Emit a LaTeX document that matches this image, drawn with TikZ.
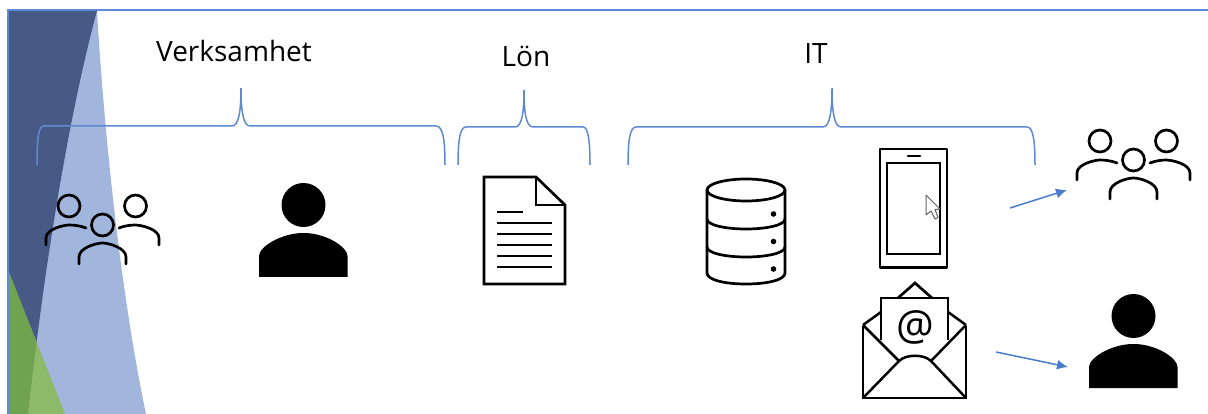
\documentclass[tikz,border=0pt]{standalone}
\usepackage{fontspec}
\setmainfont{Open Sans}
\usetikzlibrary{arrows.meta}
\definecolor{frameblue}{HTML}{5B8BD6}
\definecolor{braceblue}{HTML}{5F8AD2}
\definecolor{arrowblue}{HTML}{4A7CCB}
\definecolor{darkslate}{HTML}{465A85}
\definecolor{paleblue}{HTML}{A1B5DD}
\definecolor{leafdark}{HTML}{70A34F}
\definecolor{leaflight}{HTML}{8CBA69}
\tikzset{
  x=1pt,y=-1pt,
  icon/.style={draw=black,line width=2.7pt,line join=round,line cap=round},
  thinicon/.style={draw=black,line width=2.5pt,line join=miter},
  bracebar/.style={draw=braceblue,line width=1.5pt},
  flowarrow/.style={draw=arrowblue,line width=1.5pt,-{Latex[length=11pt,width=10pt]}},
  label/.style={inner sep=0pt,font=\fontsize{28}{32}\selectfont,text=black},
  groupicon/.pic={
    \draw[icon] (69,206) circle[radius=11];
    \draw[icon] (135.5,206) circle[radius=11];
    \draw[icon] (102.5,225) circle[radius=11];
    \draw[icon] (46,245) -- (46,238) .. controls (46,229) and (64,225) .. (69,225) .. controls (75,225) and (81,226) .. (86,228);
    \draw[icon] (159,245) -- (159,238) .. controls (159,229) and (141,225) .. (135,225) .. controls (130,225) and (124,226) .. (119,228);
    \draw[icon] (79,264) -- (79,257) .. controls (79,248) and (96,243) .. (102.5,243) .. controls (109,243) and (126,248) .. (126,257) -- (126,264);
  },
  personicon/.pic={
    \fill[black] (303.5,205) circle[radius=22];
    \fill[black] (259,277) -- (259,256) .. controls (259,247) and (281,233) .. (303.5,233) .. controls (326,233) and (347.5,247) .. (347.5,256) -- (347.5,277) -- cycle;
  }
}
\begin{document}
\begin{tikzpicture}
\useasboundingbox (0,0) rectangle (1208,414);
\fill[white] (0,0) rectangle (1208,414);
% background wedges
\fill[paleblue] (97,11) .. controls (104,130) and (120,290) .. (146,414) -- (8,414) -- (8,11) -- cycle;
\fill[darkslate] (8,11) -- (97,11) .. controls (70,110) and (45,260) .. (28,414) -- (8,414) -- cycle;
\fill[leaflight] (8,270) -- (65,414) -- (8,414) -- cycle;
\begin{scope}
  \clip (8,11) -- (97,11) .. controls (70,110) and (45,260) .. (28,414) -- (8,414) -- cycle;
  \fill[leafdark] (8,270) -- (65,414) -- (8,414) -- cycle;
\end{scope}
% frame
\draw[frameblue,line width=2pt] (1208,10.5) -- (7.5,10.5) -- (7.5,414);
% labels
\node[label] (verksamhet) at (234,51) {Verksamhet};
\node[label] (lon) at (526,56) {Lön};
\node[label] (it) at (816,54) {IT};
% braces
\draw[bracebar] (37,165) .. controls (37,140) and (38,126) .. (44,126) -- (232,126) .. controls (239,126) and (241,110) .. (241,88) .. controls (241,110) and (243,126) .. (250,126) -- (436,126) .. controls (443,126) and (445,140) .. (445,165);
\draw[bracebar] (458,165) .. controls (458,140) and (460,127) .. (466,127) -- (515,127) .. controls (522,127) and (524,112) .. (524,90) .. controls (524,112) and (526,127) .. (533,127) -- (583,127) .. controls (588,127) and (590,140) .. (590,165);
\draw[bracebar] (628,165) .. controls (628,140) and (630,127) .. (636,127) -- (823,127) .. controls (830,127) and (832,110) .. (832,88) .. controls (832,110) and (834,127) .. (841,127) -- (1027,127) .. controls (1033,127) and (1035,140) .. (1035,165);
% people
\pic (groupa) {groupicon};
\pic (persona) {personicon};
\pic[shift={(1031,-65)}] (groupb) {groupicon};
\pic[shift={(830,111)}] (personb) {personicon};
% document
\draw[thinicon,line width=2.7pt] (484,177) -- (536,177) -- (565,205) -- (565,284) -- (484,284) -- cycle;
\draw[thinicon,line width=2.7pt] (536,177) -- (536,205) -- (565,205);
\draw[thinicon] (497,212) -- (523,212);
\foreach \yy in {223,234,245,256,267} \draw[thinicon] (497,\yy) -- (552,\yy);
% database
\draw[icon] (746,190) ellipse[x radius=39,y radius=11];
\draw[icon] (707,190) -- (707,273) .. controls (707,280) and (725,284) .. (746,284) .. controls (767,284) and (785,280) .. (785,273) -- (785,190);
\draw[icon] (707,219) .. controls (707,225) and (725,229) .. (746,229) .. controls (767,229) and (785,225) .. (785,219);
\draw[icon] (707,247) .. controls (707,253) and (725,257) .. (746,257) .. controls (767,257) and (785,253) .. (785,247);
\fill (773.5,214) circle[radius=2.8];
\fill (773.5,241.5) circle[radius=2.8];
\fill (773.5,269) circle[radius=2.8];
% phone
\draw[icon] (880,149) rectangle (947,267.5);
\draw[thinicon,line width=2.8pt] (887,163) rectangle (940,254);
\draw[icon] (908,156) -- (920,156);
% cursor
\draw[gray!75!black,line width=1pt,line join=round,fill=white] (926,195) -- (926,215) -- (931,211) -- (935,219) -- (938,217.5) -- (935,209.5) -- (940,209) -- cycle;
% envelope
\draw[icon,line join=miter] (898,298) -- (915,283) -- (932,298);
\draw[thinicon] (881,340) -- (881,298) -- (948,298) -- (948,340);
\draw[thinicon] (863,325) -- (881,312);
\draw[thinicon] (948,312) -- (966,325);
\draw[thinicon] (863,326) -- (863,398) -- (966,398) -- (966,326);
\draw[thinicon] (863,325) -- (899,361);
\draw[thinicon] (966,325) -- (931,361);
\draw[thinicon] (863,398) -- (899,361) .. controls (906,354) and (924,354) .. (931,361) -- (966,398);
\node[inner sep=0pt,font=\fontsize{42}{44}\selectfont] (at) at (915,327) {@};
% arrows
\coordinate (fromit) at (1010,208);
\coordinate (togroup) at (1067,190);
\coordinate (frommail) at (996,352);
\coordinate (toperson) at (1068,367);
\draw[flowarrow] (fromit) -- (togroup);
\draw[flowarrow] (frommail) -- (toperson);
\end{tikzpicture}
\end{document}
